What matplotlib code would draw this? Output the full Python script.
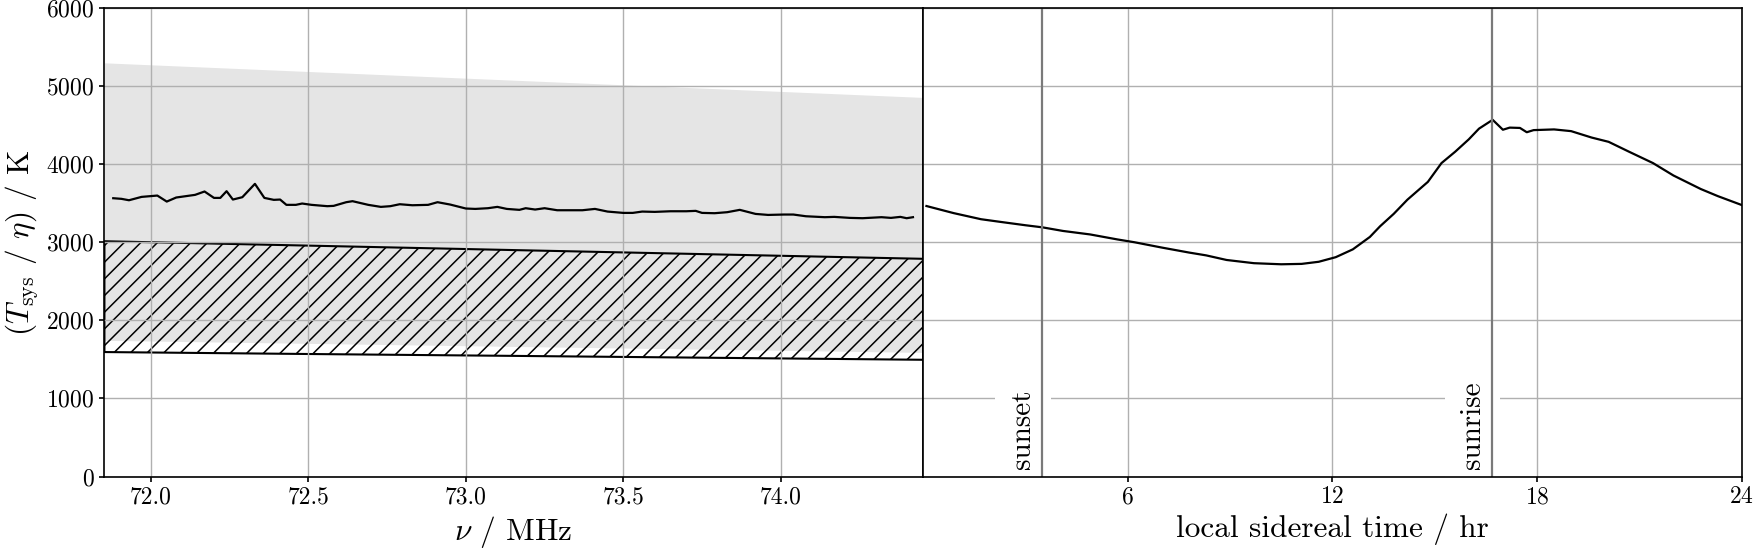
import matplotlib
matplotlib.use("Agg")
import matplotlib.pyplot as plt
import numpy as np

plt.rcParams["font.family"] = "serif"
plt.rcParams["font.serif"] = ["cmr10"]
plt.rcParams["mathtext.fontset"] = "cm"
plt.rcParams["axes.formatter.use_mathtext"] = True
plt.rcParams["axes.linewidth"] = 1.2
plt.rcParams["hatch.linewidth"] = 1.1

# measured T_sys/eta vs frequency (left panel)
freq = [71.88, 71.906, 71.93, 71.97, 72.02, 72.05, 72.08, 72.11, 72.14, 72.17,
        72.2, 72.22, 72.24, 72.26, 72.29, 72.33, 72.36, 72.39, 72.41, 72.43,
        72.46, 72.48, 72.51, 72.56, 72.58, 72.62, 72.64, 72.69, 72.73, 72.76,
        72.79, 72.83, 72.88, 72.91, 72.95, 73.0, 73.03, 73.07, 73.1, 73.13,
        73.17, 73.19, 73.22, 73.25, 73.29, 73.34, 73.37, 73.41, 73.45, 73.5,
        73.53, 73.56, 73.6, 73.65, 73.7, 73.73, 73.75, 73.79, 73.83, 73.87,
        73.92, 73.96, 74.01, 74.04, 74.08, 74.14, 74.17, 74.22, 74.26, 74.32,
        74.35, 74.38, 74.4, 74.42]
tsys_freq = [3564, 3556, 3538, 3581, 3598, 3521, 3573, 3590, 3607, 3650,
             3568, 3568, 3654, 3547, 3577, 3748, 3568, 3543, 3547, 3479,
             3479, 3496, 3479, 3462, 3466, 3513, 3526, 3479, 3453, 3462,
             3487, 3474, 3479, 3513, 3483, 3432, 3427, 3436, 3453, 3427,
             3415, 3436, 3419, 3436, 3410, 3410, 3410, 3427, 3393, 3376,
             3376, 3393, 3389, 3397, 3397, 3402, 3376, 3372, 3385, 3415,
             3363, 3350, 3355, 3355, 3333, 3321, 3325, 3312, 3308, 3321,
             3312, 3325, 3308, 3321]

# model bands (grey: sky range, hatched: expected range)
band_freq = [71.852, 72.5, 73.15, 73.8, 74.452]
grey_lo = [1744, 1705, 1666, 1628, 1589]
grey_hi = [5298, 5187, 5076, 4966, 4855]
hatch_lo = [1594, 1569, 1545, 1520, 1495]
hatch_hi = [3013, 2957, 2900, 2844, 2788]

# T_sys/eta vs local sidereal time (right panel)
lst = [0.1, 0.9, 1.7, 2.3, 3.0, 3.5, 4.1, 4.9, 5.7, 6.2, 7.0, 7.8, 8.3, 8.9,
       9.7, 10.5, 11.1, 11.6, 12.1, 12.6, 13.1, 13.4, 13.8, 14.2, 14.8, 15.2,
       15.6, 16.0, 16.3, 16.7, 17.0, 17.2, 17.5, 17.7, 17.9, 18.5, 19.0, 19.6,
       20.1, 20.7, 21.4, 22.0, 22.8, 23.3, 24.0]
tsys_lst = [3464, 3373, 3295, 3259, 3218, 3191, 3145, 3100, 3036, 3000, 2932,
            2868, 2832, 2773, 2732, 2718, 2723, 2750, 2809, 2909, 3068, 3205,
            3364, 3545, 3773, 4014, 4159, 4318, 4455, 4568, 4441, 4468, 4464,
            4409, 4436, 4445, 4423, 4341, 4286, 4159, 4014, 3855, 3682, 3591,
            3477]

sun_events = {"sunset": 3.5, "sunrise": 16.68}

fig, (ax1, ax2) = plt.subplots(1, 2, sharey=True, figsize=(17.55, 5.55), dpi=100)
fig.subplots_adjust(left=0.0595, right=0.9924, bottom=0.1414, top=0.9856, wspace=0)

ax1.fill_between(band_freq, grey_lo, grey_hi, color="k", alpha=0.1, linewidth=0)
ax1.fill_between(band_freq, hatch_lo, hatch_hi, facecolor="none", edgecolor="k",
                 hatch="//", linewidth=1.5)
ax1.plot(freq, tsys_freq, color="k", linewidth=1.6)
ax1.set_xlim(71.852, 74.452)
ax1.set_ylim(0, 6000)
ax1.set_xticks([72.0, 72.5, 73.0, 73.5, 74.0])
ax1.set_xticklabels([f"{v:.1f}" for v in [72.0, 72.5, 73.0, 73.5, 74.0]])
ax1.set_yticks(range(0, 7000, 1000))
ax1.grid(True, color="#b0b0b0", linewidth=1.0)
ax1.set_xlabel(r"$\nu$ / MHz", fontsize=22.5)
ax1.set_ylabel(r"($T_\mathrm{sys}$ / $\eta$) / K", fontsize=22.5)
ax1.tick_params(labelsize=17, width=1.2)

ax2.plot(lst, tsys_lst, color="k", linewidth=1.6)
for label, t in sun_events.items():
    ax2.axvline(t, color="#7a7a7a", linewidth=1.6, zorder=2)
    ax2.text(t - 0.18, 100, label, rotation=90, ha="right", va="bottom",
             fontsize=21, zorder=1.8,
             bbox=dict(boxstyle="square,pad=0.5", facecolor="white", edgecolor="none"))
ax2.set_xlim(0, 24)
ax2.set_xticks([6, 12, 18, 24])
ax2.grid(True, color="#b0b0b0", linewidth=1.0)
ax2.set_xlabel("local sidereal time / hr", fontsize=22.5)
ax2.tick_params(labelsize=17, width=1.2)
ax2.tick_params(axis="y", left=False)

fig.savefig("out.png", dpi=100)
